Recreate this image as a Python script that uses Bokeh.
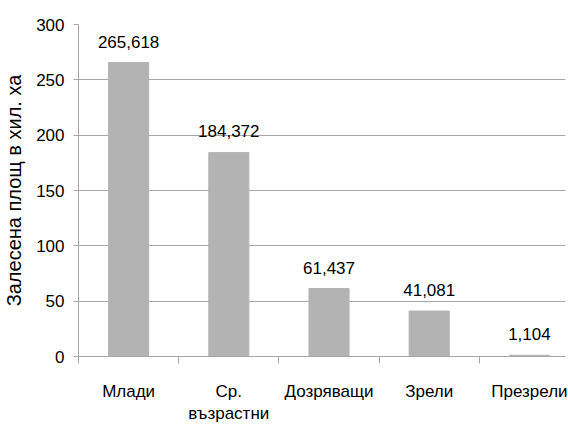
from bokeh.plotting import figure
from bokeh.models import Range1d, FixedTicker, ColumnDataSource
from bokeh.core.properties import value
from bokeh.embed import file_html
from bokeh.resources import INLINE

# Afforested area by stand age class, thousand ha
categories = ["Млади", "Ср.\nвъзрастни", "Дозряващи", "Зрели", "Презрели"]
areas = [265.618, 184.372, 61.437, 41.081, 1.104]
y_ticks = [0, 50, 100, 150, 200, 250, 300]

FONT = "Liberation Sans"
GRID = "#a6a6a6"

centers = [i + 0.5 for i in range(len(categories))]
bounds = [float(i) for i in range(len(categories) + 1)]
labels = [f"{a:.3f}".replace(".", ",") for a in areas]

src = ColumnDataSource(dict(x=centers, area=areas, label=labels))

p = figure(
    width=568, height=426,
    x_range=Range1d(0, 4.86), y_range=Range1d(0, 300),
    output_backend="svg", toolbar_location=None,
    min_border_left=77, min_border_right=3,
    min_border_top=24, min_border_bottom=70,
)
p.outline_line_color = None
p.background_fill_color = "white"
p.border_fill_color = "white"

p.vbar(x="x", top="area", width=0.4, source=src,
       fill_color="#b3b3b3", line_color="#b3b3b3")

p.text(x="x", y="area", text="label", source=src,
       text_align="center", text_baseline="alphabetic", y_offset=-21,
       text_font=value(FONT), text_font_size="17px", text_color="black")

# x axis: category names centred, tick marks on category boundaries
xa = p.xaxis[0]
xa.ticker = FixedTicker(ticks=centers, minor_ticks=bounds)
xa.major_label_overrides = {c: name for c, name in zip(centers, categories)}
xa.major_tick_out = 0
xa.major_tick_in = 0
xa.minor_tick_out = 7
xa.minor_tick_in = 0
xa.minor_tick_line_color = GRID
xa.axis_line_color = GRID
xa.major_label_standoff = 18
xa.major_label_text_font = FONT
xa.major_label_text_font_size = "17px"
xa.major_label_text_color = "black"

ya = p.yaxis[0]
ya.ticker = FixedTicker(ticks=y_ticks, minor_ticks=[])
ya.major_tick_out = 5
ya.major_tick_in = 0
ya.major_tick_line_color = GRID
ya.axis_line_color = GRID
ya.major_label_standoff = 9
ya.major_label_text_font = FONT
ya.major_label_text_font_size = "17px"
ya.major_label_text_color = "black"
ya.axis_label = "Залесена площ в хил. ха"
ya.axis_label_text_font = FONT
ya.axis_label_text_font_size = "20px"
ya.axis_label_text_font_style = "normal"
ya.axis_label_text_color = "black"
ya.axis_label_standoff = 8

p.xgrid.visible = False
p.ygrid.ticker = FixedTicker(ticks=y_ticks, minor_ticks=[])
p.ygrid.grid_line_color = GRID

open("out.html", "w").write(file_html(p, INLINE))
